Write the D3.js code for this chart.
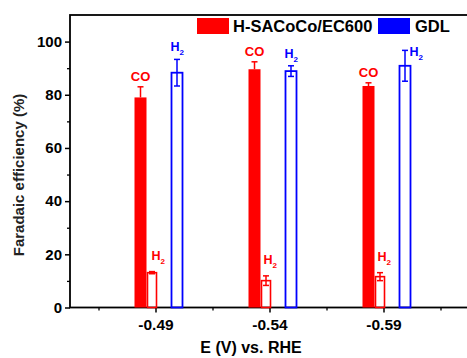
<!DOCTYPE html>
<html>
<head>
<meta charset="utf-8">
<title>Faradaic efficiency</title>
<style>
body { margin: 0; background: #fff; }
text { font-family: "Liberation Sans", Arial, sans-serif; }
.tick text { font-weight: bold; fill: #000; }
</style>
</head>
<body>
<svg width="467" height="358"></svg>
<script src="https://cdn.jsdelivr.net/npm/d3@7"></script>
<script>

// potentials (V vs RHE)
var potentials = ["-0.49", "-0.54", "-0.59"];
// H-SACoCo/EC600
var coFE   = [79, 89.6, 83.3];
var coErr  = [4, 2.8, 1.2];
var h2FE   = [13.1, 10.1, 11.6];
var h2Err  = [0.4, 1.8, 1.5];
// GDL
var gdlFE  = [88.3, 88.9, 90.9];
var gdlErr = [5, 2, 5.8];

var yTicks = [0, 20, 40, 60, 80, 100];

var svg = d3.select("svg");

var x = d3.scaleLinear().domain([0.25, 3.75]).range([70, 469]);
var y = d3.scaleLinear().domain([0, 110]).range([307.5, 15]);

var red = "#ff0000", blue = "#0000ff";

// bar layout inside each group (px offsets from the group tick)
var coOff = [-21, -9], h2Off = [-9, 1], gdlOff = [16, 27];

var data = potentials.map(function(p, i) {
  return {p: p, pos: i + 1, co: coFE[i], coE: coErr[i], h2: h2FE[i], h2E: h2Err[i], gdl: gdlFE[i], gdlE: gdlErr[i]};
});

// frame
svg.append("rect")
    .attr("x", 70).attr("y", 15)
    .attr("width", 420).attr("height", y(0) - 15)
    .attr("fill", "none").attr("stroke", "#000").attr("stroke-width", 1.8);

// y axis
var yAxis = d3.axisLeft(y).tickValues(yTicks).tickSize(5).tickPadding(3);
var gy = svg.append("g").attr("transform", "translate(70,0)").call(yAxis);
gy.select(".domain").remove();
gy.selectAll(".tick line").attr("stroke-width", 1.5);
gy.selectAll(".tick text").attr("font-size", 15);
svg.append("g").attr("transform", "translate(70,0)")
    .call(d3.axisLeft(y).tickValues([10, 30, 50, 70, 90]).tickSize(3).tickFormat(""))
    .call(function(g) { g.select(".domain").remove(); g.selectAll("line").attr("stroke-width", 1.3); });

// x axis
var xAxis = d3.axisBottom(x).tickValues([1, 2, 3]).tickSize(5).tickPadding(6)
    .tickFormat(function(d) { return potentials[d - 1]; });
var gx = svg.append("g").attr("transform", "translate(0," + y(0) + ")").call(xAxis);
gx.select(".domain").remove();
gx.selectAll(".tick line").attr("stroke-width", 1.5);
gx.selectAll(".tick text").attr("font-size", 15.5);
svg.append("g").attr("transform", "translate(0," + y(0) + ")")
    .call(d3.axisBottom(x).tickValues([0.5, 1.5, 2.5, 3.5]).tickSize(3).tickFormat(""))
    .call(function(g) { g.select(".domain").remove(); g.selectAll("line").attr("stroke-width", 1.3); });

var grp = svg.selectAll(".grp").data(data).enter().append("g")
    .attr("transform", function(d) { return "translate(" + x(d.pos) + ",0)"; });

function errBar(sel, cx, val, err, color, both) {
  sel.append("line").attr("x1", cx).attr("x2", cx)
      .attr("y1", both ? y(val - err) : y(val)).attr("y2", y(val + err))
      .attr("stroke", color).attr("stroke-width", 1.5);
  sel.append("line").attr("x1", cx - 3).attr("x2", cx + 3)
      .attr("y1", y(val + err)).attr("y2", y(val + err))
      .attr("stroke", color).attr("stroke-width", 1.5);
  if (both) {
    sel.append("line").attr("x1", cx - 3).attr("x2", cx + 3)
        .attr("y1", y(val - err)).attr("y2", y(val - err))
        .attr("stroke", color).attr("stroke-width", 1.5);
  }
}

grp.each(function(d) {
  var g = d3.select(this);
  // CO, filled red
  errBar(g, (coOff[0] + coOff[1]) / 2, d.co, d.coE, red, false);
  g.append("rect").attr("x", coOff[0]).attr("width", coOff[1] - coOff[0])
      .attr("y", y(d.co)).attr("height", y(0) - y(d.co)).attr("fill", red);
  // H2, hollow red
  g.append("rect").attr("x", h2Off[0] + 1).attr("width", h2Off[1] - h2Off[0] - 1)
      .attr("y", y(d.h2)).attr("height", y(0) - y(d.h2))
      .attr("fill", "none").attr("stroke", red).attr("stroke-width", 1.6);
  errBar(g, (h2Off[0] + h2Off[1]) / 2 + 0.5, d.h2, d.h2E, red, true);
  // GDL H2, hollow blue
  g.append("rect").attr("x", gdlOff[0]).attr("width", gdlOff[1] - gdlOff[0])
      .attr("y", y(d.gdl)).attr("height", y(0) - y(d.gdl))
      .attr("fill", "none").attr("stroke", blue).attr("stroke-width", 1.8);
  errBar(g, (gdlOff[0] + gdlOff[1]) / 2, d.gdl, d.gdlE, blue, true);
});

// labels
function h2Label(sel, lx, ly, color) {
  var t = sel.append("text").attr("x", lx).attr("y", ly)
      .attr("fill", color).attr("font-size", 12.5).attr("font-weight", "bold");
  t.append("tspan").text("H");
  t.append("tspan").attr("font-size", 8).attr("dy", 4).text("2");
}

grp.append("text")
    .attr("x", (coOff[0] + coOff[1]) / 2).attr("text-anchor", "middle")
    .attr("y", function(d) { return y(d.co + d.coE) - 6; })
    .attr("fill", red).attr("font-size", 13).attr("font-weight", "bold")
    .text("CO");

var h2LabelDx = [-4, -6, -6];
grp.each(function(d, i) {
  var g = d3.select(this);
  h2Label(g, h2LabelDx[i], y(d.h2 + d.h2E) - 12, red);
  if (i < 2) h2Label(g, gdlOff[0] - 1, y(d.gdl + d.gdlE) - 8, blue);
  else h2Label(g, gdlOff[1] - 1, y(d.gdl + d.gdlE) + 6, blue);
});

// legend
var leg = svg.append("g");
leg.append("rect").attr("x", 197).attr("y", 18).attr("width", 32).attr("height", 16).attr("fill", red);
leg.append("text").attr("x", 233).attr("y", 31.5).attr("font-size", 16.5).attr("font-weight", "bold").text("H-SACoCo/EC600");
leg.append("rect").attr("x", 378).attr("y", 18).attr("width", 32).attr("height", 16).attr("fill", blue);
leg.append("text").attr("x", 415).attr("y", 31.5).attr("font-size", 16.5).attr("font-weight", "bold").text("GDL");

// axis titles
svg.append("text")
    .attr("transform", "translate(24,175) rotate(-90)")
    .attr("text-anchor", "middle").attr("font-size", 15).attr("font-weight", "bold")
    .attr("fill", "#222").text("Faradaic efficiency (%)");
svg.append("text")
    .attr("x", 251).attr("y", 353).attr("text-anchor", "middle")
    .attr("font-size", 16).attr("font-weight", "bold").text("E (V) vs. RHE");

</script>
</body>
</html>
